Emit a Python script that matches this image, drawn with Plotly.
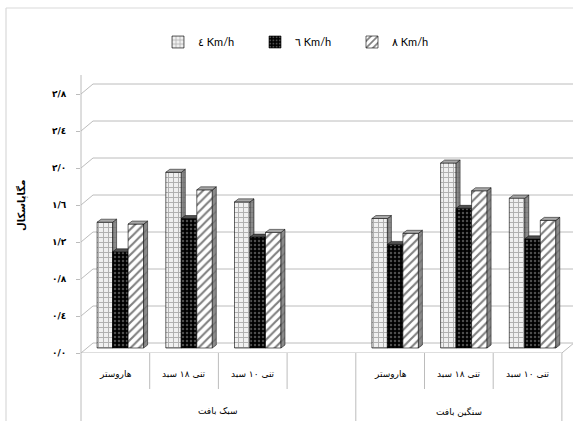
import plotly.graph_objects as go

# ---------------- data ----------------
groups = ["بافت سبک", "بافت سنگین"]
group_slots = [[0, 1, 2, 3], [4, 5, 6]]
machines = ["هاروستر", "سبد ١٨ تنی", "سبد ١٠ تنی", "",
            "هاروستر", "سبد ١٨ تنی", "سبد ١٠ تنی"]
speed_4 = [1.36, 1.90, 1.58, None, 1.40, 2.00, 1.62]
speed_6 = [1.04, 1.40, 1.20, None, 1.12, 1.51, 1.18]
speed_8 = [1.34, 1.71, 1.25, None, 1.24, 1.70, 1.38]
series_names = ["٤ Km/h", "٦ Km/h", "٨ Km/h"]
y_ticks = [0.0, 0.4, 0.8, 1.2, 1.6, 2.0, 2.4, 2.8]
y_tick_labels = ["٠/٠", "٠/٤", "٠/٨", "١/٢", "١/٦", "٢/٠", "٢/٤", "٢/٨"]
y_title = "مگاپاسکال"

LRM = "\u200e"


def words_left_to_right(label):
    """Category captions are laid out word by word from the left."""
    return (LRM + " ").join(label.split())


# ---------------- geometry (pixels) ----------------
W, H = 573, 421
L, T, B = 81, 75, 353          # plot area: left, top, front floor edge
SLOT = 68.7                    # width of one category slot
UNIT = 92.5                    # pixels per unit of value
DEPTH_X, DEPTH_Y = 12, 10      # floor depth (front plane -> back wall)
BASE = B - DEPTH_Y / 2         # bars stand at mid depth


def px_x(p):
    return (p - L) / (W - L)


def px_y(p):
    return (B - p) / (B - T)


x_range = [-0.5, -0.5 + (W - L) / SLOT]
y_range = [-(B - BASE) / UNIT, (BASE - T) / UNIT]
back_dy = (BASE - (B - DEPTH_Y)) / UNIT     # back wall offset in value units
front_dy = -(B - BASE) / UNIT               # front plane offset in value units

bw = 15.5 / SLOT
shift = 5 / SLOT
dx = 4 / SLOT
dy = 3 / UNIT

styles = [
    dict(fill="#f0f0f0", shape="+", fg="#6e6e6e", size=5, sol=0.35,
         side="#8a8a8a", top="#a8a8a8"),
    dict(fill="#000000", shape=".", fg="#9a9a9a", size=4, sol=0.3,
         side="#303030", top="#505050"),
    dict(fill="#ffffff", shape="/", fg="#000000", size=6, sol=0.35,
         side="#8a8a8a", top="#a8a8a8"),
]

fig = go.Figure()

font_ar = "DejaVu Sans"
all_series = [speed_4, speed_6, speed_8]

for j, (vals, name, st) in enumerate(zip(all_series, series_names, styles)):
    fx, fy, sx, sy, tx, ty = [], [], [], [], [], []
    for i, v in enumerate(vals):
        if v is None:
            continue
        xl = i + shift + (j - 1.5) * bw
        xr = xl + bw
        fx += [xl, xl, xr, xr, xl, None]
        fy += [0, v, v, 0, 0, None]
        sx += [xr, xr, xr + dx, xr + dx, xr, None]
        sy += [0, v, v + dy, dy, 0, None]
        tx += [xl, xr, xr + dx, xl + dx, xl, None]
        ty += [v, v, v + dy, v + dy, v, None]
    pat = dict(shape=st["shape"], fgcolor=st["fg"], bgcolor=st["fill"],
               size=st["size"], solidity=st["sol"])
    fig.add_trace(go.Scatter(x=fx, y=fy, mode="lines", fill="toself",
                             fillcolor=st["fill"], fillpattern=pat,
                             line=dict(color="black", width=0.6),
                             showlegend=False, hoverinfo="skip"))
    fig.add_trace(go.Scatter(x=sx, y=sy, mode="lines", fill="toself",
                             fillcolor=st["side"],
                             fillpattern=dict(shape=st["shape"], fgcolor="#555555",
                                              bgcolor=st["side"], size=st["size"],
                                              solidity=0.2),
                             line=dict(color="black", width=0.5),
                             showlegend=False, hoverinfo="skip"))
    fig.add_trace(go.Scatter(x=tx, y=ty, mode="lines", fill="toself",
                             fillcolor=st["top"],
                             line=dict(color="black", width=0.5),
                             showlegend=False, hoverinfo="skip"))
    # legend key (also carries the front-plane value axis)
    fig.add_trace(go.Bar(x=[None], y=[None], name=name, yaxis="y2",
                         marker=dict(color=st["fill"],
                                     line=dict(color="black", width=0.6),
                                     pattern=pat)))

shapes = []
grid_col = "#bcbcbc"
# back-wall gridlines and left-wall diagonals
for v in y_ticks:
    shapes.append(dict(type="line", xref="paper", yref="y", layer="below",
                       x0=px_x(L + DEPTH_X), x1=1, y0=v + back_dy, y1=v + back_dy,
                       line=dict(color=grid_col, width=1)))
    shapes.append(dict(type="line", xref="paper", yref="y", layer="below",
                       x0=0, x1=px_x(L + DEPTH_X), y0=v + front_dy, y1=v + back_dy,
                       line=dict(color=grid_col, width=1)))
# floor front edge and right diagonal
n_slots = len(machines)
shapes.append(dict(type="line", xref="x", yref="y", layer="below",
                   x0=-0.5, x1=n_slots - 0.5, y0=front_dy, y1=front_dy,
                   line=dict(color=grid_col, width=1)))
shapes.append(dict(type="line", xref="x", yref="y", layer="below",
                   x0=n_slots - 0.5, x1=n_slots - 0.5 + DEPTH_X / SLOT,
                   y0=front_dy, y1=back_dy,
                   line=dict(color=grid_col, width=1)))
# front vertical axis line, continuing down as table border
shapes.append(dict(type="line", xref="paper", yref="paper",
                   x0=0, x1=0, y0=px_y(H), y1=1,
                   line=dict(color=grid_col, width=1)))
# category table dividers
group_edges = [s[-1] + 1 for s in group_slots]
for k in range(1, n_slots + 1):
    bottom = px_y(H) if k in group_edges else px_y(389)
    shapes.append(dict(type="line", xref="x", yref="paper",
                       x0=k - 0.5, x1=k - 0.5, y0=0, y1=bottom,
                       line=dict(color=grid_col, width=1)))
# outer chart frame
frame_col = "#d9d9d9"
shapes.append(dict(type="line", xref="paper", yref="paper",
                   x0=px_x(6), x1=1, y0=px_y(8), y1=px_y(8),
                   line=dict(color=frame_col, width=1.2)))
shapes.append(dict(type="line", xref="paper", yref="paper",
                   x0=px_x(6), x1=px_x(6), y0=px_y(8), y1=px_y(H),
                   line=dict(color=frame_col, width=1.2)))

annotations = []
for i, m in enumerate(machines):
    if m:
        annotations.append(dict(x=i, y=px_y(374), xref="x", yref="paper",
                                xanchor="center", yanchor="middle",
                                text=words_left_to_right(m), showarrow=False,
                                font=dict(family=font_ar, size=9, color="black")))
for g, slots in zip(groups, group_slots):
    annotations.append(dict(x=(slots[0] + slots[-1]) / 2, y=px_y(411),
                            xref="x", yref="paper", xanchor="center", yanchor="middle",
                            text=words_left_to_right(g), showarrow=False,
                            font=dict(family=font_ar, size=9, color="black")))
annotations.append(dict(x=px_x(21), y=px_y(206), xref="paper", yref="paper",
                        xanchor="center", yanchor="middle",
                        text="<b>" + y_title + "</b>", textangle=-90, showarrow=False,
                        font=dict(family=font_ar, size=10, color="black")))

fig.update_layout(
    width=W, height=H, autosize=False,
    margin=dict(l=L, r=0, t=T, b=H - B, pad=0),
    paper_bgcolor="white", plot_bgcolor="rgba(0,0,0,0)",
    barmode="overlay",
    shapes=shapes, annotations=annotations,
    legend=dict(orientation="h", x=px_x(158), y=px_y(42),
                xanchor="left", yanchor="middle",
                font=dict(family="Lato", size=11, color="black"),
                entrywidth=52, entrywidthmode="pixels",
                bgcolor="rgba(0,0,0,0)"),
    xaxis=dict(range=x_range, showgrid=False, zeroline=False,
               showticklabels=False, ticks="", showline=False, fixedrange=True),
    yaxis=dict(range=y_range, showgrid=False, zeroline=False,
               showticklabels=False, ticks="", showline=False),
    yaxis2=dict(range=[0, (B - T) / UNIT], overlaying="y", side="left",
                tickvals=y_ticks, ticktext=["<b>" + t + "</b>" for t in y_tick_labels],
                ticks="outside", ticklen=4, tickcolor=grid_col,
                showgrid=False, zeroline=False, showline=False,
                ticklabelstandoff=8,
                tickfont=dict(family=font_ar, size=9, color="black")),
)

fig.write_html("out.html")
